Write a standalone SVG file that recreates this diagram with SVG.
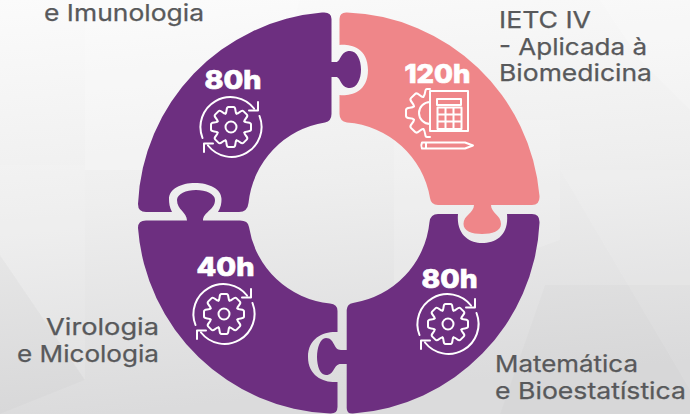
<svg xmlns="http://www.w3.org/2000/svg" xmlns:xlink="http://www.w3.org/1999/xlink" width="690" height="414" viewBox="0 0 690 414">
<style>
.bgf{stroke:none}
.pur{fill:#6d2f80}
.pink{fill:#ef8689}
.hrs{font-family:Inter,"Liberation Sans",sans-serif;font-weight:800;font-size:26px;fill:#fff;stroke:#fff;stroke-width:.7;paint-order:stroke}
.lbl{font-family:Inter,"Liberation Sans",sans-serif;font-weight:400;font-size:23.5px;fill:#58595b;stroke:#58595b;stroke-width:.25}
.ic{fill:none;stroke:#fff;stroke-width:2;stroke-linecap:round;stroke-linejoin:round}
</style>
<defs>
<linearGradient id="bg" x1="0" y1="0" x2="0.15" y2="1">
<stop offset="0" stop-color="#fbfbfb"/><stop offset="0.5" stop-color="#eeeeee"/><stop offset="1" stop-color="#dbdbdc"/>
</linearGradient>
<path id="t" d="M-5.55-13.4C-3.5-15-5.5-20-2.5-20H2.5C5.5-20 3.5-15 5.55-13.4"/>
<g id="cyc" class="ic">
<use xlink:href="#t"/><use xlink:href="#t" transform="rotate(45)"/><use xlink:href="#t" transform="rotate(90)"/><use xlink:href="#t" transform="rotate(135)"/><use xlink:href="#t" transform="rotate(180)"/><use xlink:href="#t" transform="rotate(225)"/><use xlink:href="#t" transform="rotate(270)"/><use xlink:href="#t" transform="rotate(315)"/>
<circle r="5.5"/>
<path d="M-28.5,11A30,30 0 0 1 23,-18.5M18,-16.5H27V-25"/>
<path d="M28.5,-11A30,30 0 0 1 -23,18.5M-18,16.5H-27V25"/>
</g>
</defs>
<rect id="background" width="690" height="414" fill="url(#bg)"/>
<g id="facets" class="bgf">
<polygon points="85,0 300,0 250,170 85,170" fill="#fff" opacity=".2"/>
<polygon points="0,165 85,165 85,380 0,255" fill="#fff" opacity=".1"/>
<polygon points="0,255 85,380 0,414" fill="#000" opacity=".015"/>
<polygon points="394,120 560,120 560,240 394,300" fill="#fff" opacity=".15"/>
<polygon points="560,170 690,390 690,170" fill="#fff" opacity=".1"/>
<polygon points="545,285 690,285 690,414 500,414" fill="#000" opacity=".015"/>
<polygon points="600,0 690,0 690,110 640,60" fill="#fff" opacity=".2"/>
</g>
<g id="connectors"></g>
<g id="node-imunologia">
<path class="pur" d="M322,12.6Q331.5,11.5 331.5,19V62H336C341,62 340,51 350,51C357,51 361,60 361,69.5C361,79 357,88 350,88C340,88 341,77 336,77H331.5V114Q331.5,121 325,122.5A91,91 0 0 0 248.5,203Q247.5,212 239,212H218C221,207 221.5,203 221.5,199C221.5,189 209,183 195,183C181,183 169,189 169,199C169,203 169.5,207 172,212H146Q138,212 138,204A201,201 0 0 1 322,12.6Z"/>
<text class="hrs" x="204.5" y="88.500" textLength="57" lengthAdjust="spacingAndGlyphs">80h</text>
<use xlink:href="#cyc" transform="translate(231,127)"/>
<text class="lbl" x="44" y="21" textLength="160" lengthAdjust="spacingAndGlyphs">e Imunologia</text>
</g>
<g id="node-ietc">
<path class="pink" d="M339.5,19Q339.5,12 347,12.4A201,201 0 0 1 539.5,196Q540,205 532,205H491C491,213 501,215 501,224C501,231 492,234 482,234C472,234 463.5,231 463.5,224C463.5,215 474,213 474,205H438Q431,205 430,198A91,91 0 0 0 347,122.5Q339.5,121 339.5,114V95C346,96 368,95 368,70C368,45 346,44 339.5,45Z"/>
<text class="hrs" x="404.500" y="83" textLength="66" lengthAdjust="spacingAndGlyphs">120h</text>
<g class="ic">
<path d="M430,91H468V131H430ZM437,99H461V105H437ZM437.5,107.500H461.500V129H437.500ZM445.500,107.500V129M453.500,107.500V129M437.500,114.500H461.500M437.500,121.500H461.500"/>
<path d="M430,102A11,11 0 0 0 430,124"/>
<path transform="translate(430,113) scale(1.2) rotate(-45)" d="M-5.55-13.4C-3.5-15-5.5-20-2.5-20H2.5C5.5-20 3.5-15 5.55-13.4" stroke-width="1.7"/>
<path transform="translate(430,113) scale(1.2) rotate(-90)" d="M-5.55-13.4C-3.5-15-5.5-20-2.5-20H2.5C5.5-20 3.5-15 5.55-13.4" stroke-width="1.7"/>
<path transform="translate(430,113) scale(1.2) rotate(-135)" d="M-5.55-13.4C-3.5-15-5.5-20-2.5-20H2.5C5.5-20 3.5-15 5.55-13.4" stroke-width="1.7"/>
<path d="M430,89H427C424,89 426.4,94 423.3,96.9"/>
<path d="M430,137H427C424,137 426.4,132 423.3,129.1"/>
<path d="M422,142.500H465L473,145.500L465,148.500H422Q420.500,145.500 422,142.500ZM426,142.500V148.500"/>
</g>
<text class="lbl" x="499" y="28" textLength="92" lengthAdjust="spacingAndGlyphs">IETC IV</text>
<text class="lbl" x="499" y="55" textLength="148" lengthAdjust="spacingAndGlyphs">- Aplicada à</text>
<text class="lbl" x="499" y="81" textLength="153" lengthAdjust="spacingAndGlyphs">Biomedicina</text>
</g>
<g id="node-matematica">
<path class="pur" d="M346.7,310Q347,304 353,303A91,91 0 0 0 429.5,222Q430.5,214 438,214H458C456,235 470,243 482,243C496,243 509,235 507,214H532Q540,214 539.5,223A201,201 0 0 1 353,413.5Q346.7,414 346.7,408V364H341C333,364 335,375 326,375C320,375 317,366 317,357C317,348 320,338 326,338C335,338 333,350 341,350H346.7Z"/>
<text class="hrs" x="421.5" y="288" textLength="56" lengthAdjust="spacingAndGlyphs">80h</text>
<use xlink:href="#cyc" transform="translate(448,324)"/>
<text class="lbl" x="495" y="372" textLength="143" lengthAdjust="spacingAndGlyphs">Matemática</text>
<text class="lbl" x="495" y="399" textLength="191" lengthAdjust="spacingAndGlyphs">e Bioestatística</text>
</g>
<g id="node-virologia">
<path class="pur" d="M146,220.6H187C187,212 177,210 177,200C177,194 186,190 196,190C206,190 215,194 215,200C215,210 203,212 203,220.6H240Q248,220.6 249,227A91,91 0 0 0 330,303.5Q337.5,304 337.5,311V332C325,331 308,337 308,357C308,377 325,383 337.5,382V407Q337.5,414 330,413.5A201,201 0 0 1 138,228Q138,220.6 146,220.6Z"/>
<text class="hrs" x="196.5" y="276" textLength="58" lengthAdjust="spacingAndGlyphs">40h</text>
<use xlink:href="#cyc" transform="translate(224,314)"/>
<text class="lbl" x="46" y="335" textLength="113" lengthAdjust="spacingAndGlyphs">Virologia</text>
<text class="lbl" x="17" y="362" textLength="142" lengthAdjust="spacingAndGlyphs">e Micologia</text>
</g>
</svg>
